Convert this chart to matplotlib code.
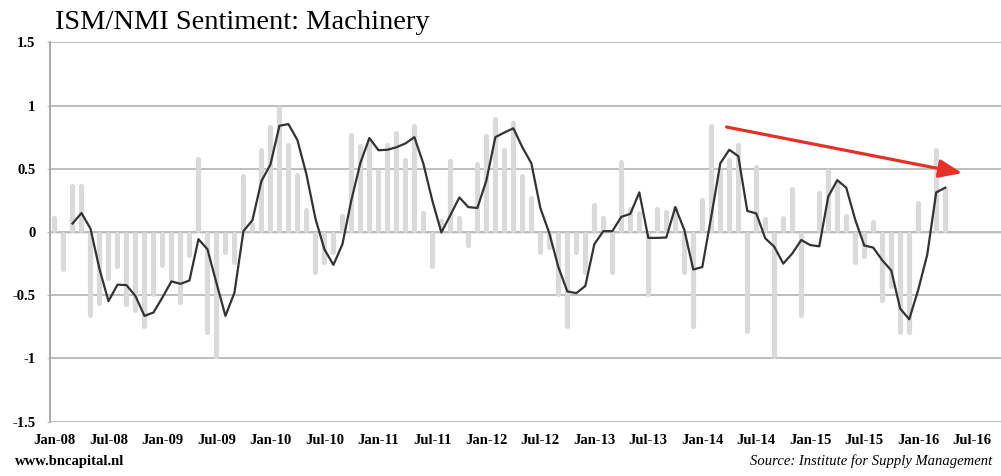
import numpy as np
import pandas as pd
import matplotlib
matplotlib.use('Agg')
import matplotlib.pyplot as plt

# monthly values, Jan-08 .. Apr-16
values = [0.13, -0.31, 0.38, 0.38, -0.68, -0.58, -0.38, -0.29, -0.59, -0.64,
          -0.76, -0.51, -0.28, -0.38, -0.57, -0.20, 0.60, -0.81, -1.00, -0.18,
          -0.26, 0.46, 0.08, 0.67, 0.85, 1.00, 0.71, 0.47, 0.19, -0.34,
          -0.26, -0.18, 0.15, 0.79, 0.70, 0.74, 0.50, 0.71, 0.80, 0.59,
          0.86, 0.17, -0.29, 0.11, 0.58, 0.13, -0.12, 0.56, 0.78, 0.91,
          0.67, 0.88, 0.46, 0.29, -0.18, -0.14, -0.51, -0.76, -0.18, -0.34,
          0.23, 0.13, -0.34, 0.57, 0.20, 0.17, -0.51, 0.20, 0.18, 0.21,
          -0.34, -0.76, 0.27, 0.86, 0.50, 0.59, 0.71, -0.80, 0.53, 0.12,
          -1.00, 0.13, 0.36, -0.68, 0.01, 0.33, 0.50, 0.40, 0.15, -0.26,
          -0.21, 0.10, -0.56, -0.45, -0.81, -0.81, 0.25, 0.02, 0.67, 0.36]

tick_labels = ['Jan-08', 'Jul-08', 'Jan-09', 'Jul-09', 'Jan-10', 'Jul-10',
               'Jan-11', 'Jul-11', 'Jan-12', 'Jul-12', 'Jan-13', 'Jul-13',
               'Jan-14', 'Jul-14', 'Jan-15', 'Jul-15', 'Jan-16', 'Jul-16']

# trend arrow (month index, value)
arrow_start = (74.7, 0.83)
arrow_end = (100.9, 0.465)

serif = ['Liberation Serif', 'DejaVu Serif']

x = np.arange(len(values))
v = np.array(values)
avg3 = pd.Series(values).rolling(3).mean()

fig = plt.figure(figsize=(10.01, 4.76), dpi=100)
ax = fig.add_axes([50 / 1001, 1 - 421.7 / 476, 1 - 50 / 1001, (421.7 - 42.3) / 476])

# bars with rounded ends: pull the ends in by the cap radius
r = 2.5 / 126.5
sgn = np.sign(v)
length = np.maximum(np.abs(v) - 2 * r, 0)
y0 = sgn * r
y1 = y0 + sgn * length
ax.vlines(x, y0, y1, color='#dadada', lw=3.7, capstyle='round', zorder=2)

ax.plot(x, avg3, color='#333333', lw=1.6, zorder=3)

ax.annotate('', xy=arrow_end, xytext=arrow_start,
            arrowprops=dict(arrowstyle='-|>,head_length=1.4,head_width=0.55',
                            color='#e63025', lw=2.3, shrinkA=0, shrinkB=0),
            zorder=4)

ax.set_xlim(-0.5, 105.2)
ax.set_ylim(-1.5, 1.5)
ax.set_yticks([-1.5, -1, -0.5, 0, 0.5, 1, 1.5])
ax.set_yticklabels(['-1.5', '-1', '-0.5', '0', '0.5', '1', '1.5'])
ax.set_xticks(np.arange(0, 6 * len(tick_labels), 6))
ax.set_xticklabels(tick_labels)

ax.grid(axis='y', color='#bebebe', lw=1.4, zorder=0)
ax.axhline(0, color='#8c8c8c', lw=1.0, zorder=1)
for s in ['top', 'right', 'bottom']:
    ax.spines[s].set_visible(False)
ax.spines['left'].set_color('#aaaaaa')
ax.spines['left'].set_linewidth(1.4)

ax.tick_params(axis='x', length=0, pad=9)
ax.tick_params(axis='y', length=2.5, color='#bebebe', pad=8)
for lab in ax.get_xticklabels() + ax.get_yticklabels():
    lab.set_family(serif)
    lab.set_fontweight('bold')
    lab.set_fontsize(10.5)

fig.text(55 / 1001, 1 - 29 / 476, 'ISM/NMI Sentiment: Machinery', family=serif,
         fontsize=20.5, va='baseline', ha='left')
fig.text(15 / 1001, 1 - 465 / 476, 'www.bncapital.nl', family=serif,
         fontsize=10.5, fontweight='bold', va='baseline', ha='left')
fig.text(992 / 1001, 1 - 465 / 476, 'Source: Institute for Supply Management',
         family=serif, fontsize=10.5, style='italic', va='baseline', ha='right')

fig.savefig('out.png', dpi=100)
